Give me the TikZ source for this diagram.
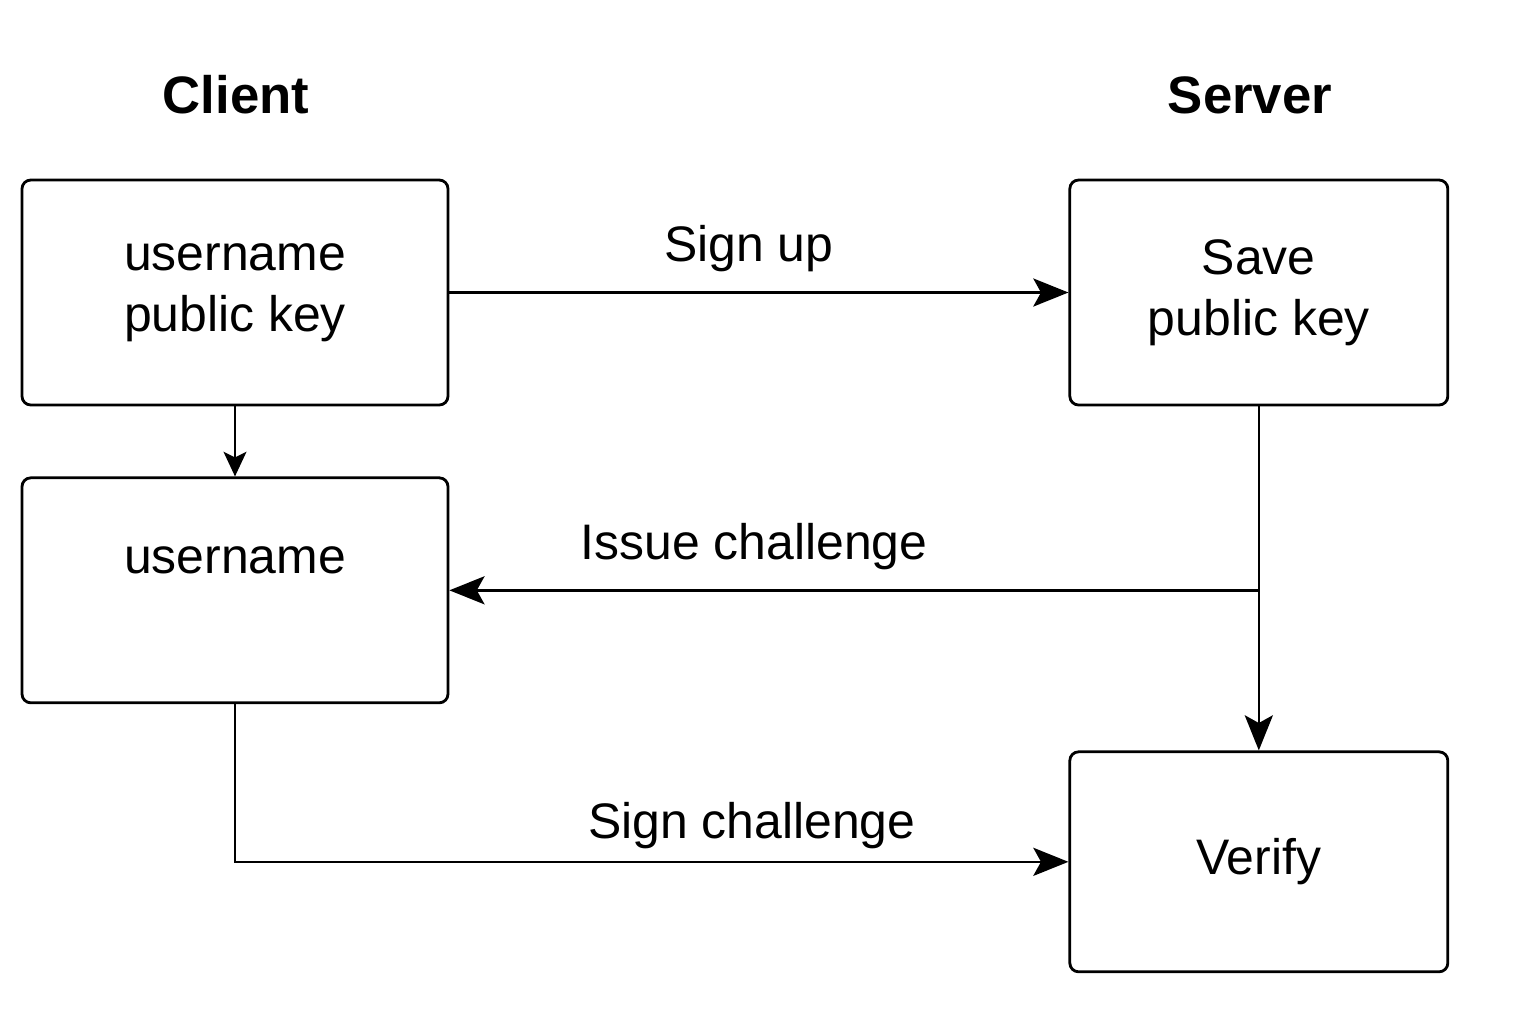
\documentclass[tikz,border=0pt]{standalone}
\usepackage{fontspec}
\setmainfont{Liberation Sans}
\usetikzlibrary{positioning,arrows.meta}

\begin{document}
\begin{tikzpicture}[>={Stealth[length=10pt,width=8pt,inset=2.2pt]},
    box/.style={rectangle, draw, line width=0.8pt, rounded corners=2.5pt, align=center,
        font=\fontsize{14.2}{17.4}\selectfont},
    title/.style={font=\fontsize{15}{18}\selectfont\bfseries},
    flow/.style={line width=0.7pt},
    lbl/.style={font=\fontsize{14.2}{17.4}\selectfont}]
        \useasboundingbox (0,0) rectangle (15.36,-10.24);

        % Client side
        \node[box, minimum width=4.26cm, minimum height=2.25cm] (keys) at (2.35,-2.925) {username\\public key};
        \node[box, minimum width=4.26cm, minimum height=2.25cm] (login) [below=0.7cm of keys] {username\\\mbox{}};
        \node[title] (client) at (2.36,-0.95) {Client};

        % Server side
        \node[box, minimum width=3.78cm, minimum height=2.25cm] (save) [right=6.19cm of keys] {Save\\public key};
        \node[box, minimum width=3.78cm, minimum height=2.2cm] (verify) [below=3.44cm of save] {Verify};
        \node[title] (server) at (12.50,-0.95) {Server};

        % Messages
        \coordinate (split) at (save.south |- login.east);
        \draw[flow, ->] (keys) -- node[lbl, above=0.08cm, xshift=-0.1cm] {Sign up} (save);
        \draw[flow, -{Stealth[length=7pt,width=6.5pt,inset=1.6pt]}] (keys) -- (login);
        \draw[flow, ->] (save) -- (verify);
        \draw[flow, ->] (split) -- node[lbl, above=0.08cm, xshift=-1cm] {Issue challenge} (login.east);
        \draw[flow, ->] (login.south) |- node[lbl, pos=0.81, above] {Sign challenge} (verify.west);
    \end{tikzpicture}
\end{document}
